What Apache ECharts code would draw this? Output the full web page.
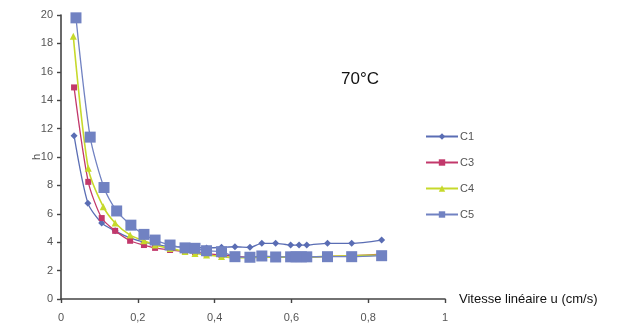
<!DOCTYPE html>
<html>
<head>
<meta charset="utf-8">
<script src="https://cdn.jsdelivr.net/npm/echarts@6/dist/echarts.min.js"></script>
<style>
  html, body { margin: 0; padding: 0; background: #fff; }
  #chart { width: 622px; height: 329px; }
</style>
</head>
<body>
<div id="chart"></div>
<script>
// Linear velocity u (cm/s)
const uC1 = [0.034, 0.070, 0.106, 0.141, 0.180, 0.216, 0.245, 0.284, 0.323, 0.349, 0.379, 0.418, 0.453, 0.492, 0.523, 0.559, 0.598, 0.620, 0.640, 0.694, 0.757, 0.835];
const uC3 = [0.034, 0.071, 0.106, 0.141, 0.180, 0.216, 0.245, 0.284, 0.323, 0.349, 0.379, 0.418, 0.453, 0.492, 0.523, 0.559, 0.598, 0.620, 0.640, 0.694, 0.757, 0.835];
const uC4 = [0.032, 0.071, 0.110, 0.141, 0.180, 0.216, 0.245, 0.284, 0.323, 0.349, 0.379, 0.418, 0.453, 0.492, 0.523, 0.559, 0.598, 0.620, 0.640, 0.694, 0.757, 0.835];
const uC5 = [0.039, 0.076, 0.112, 0.145, 0.182, 0.216, 0.245, 0.284, 0.323, 0.349, 0.379, 0.418, 0.453, 0.492, 0.523, 0.559, 0.598, 0.612, 0.626, 0.640, 0.694, 0.757, 0.835];

// Plate height h
const hC1 = [11.5, 6.75, 5.35, 4.8, 4.3, 4.0, 3.85, 3.7, 3.65, 3.65, 3.6, 3.64, 3.68, 3.64, 3.92, 3.92, 3.8, 3.8, 3.8, 3.92, 3.92, 4.15];
const hC3 = [14.9, 8.25, 5.7, 4.8, 4.1, 3.8, 3.6, 3.45, 3.35, 3.3, 3.2, 3.1, 3.0, 2.95, 2.95, 2.95, 2.95, 2.95, 2.95, 3.0, 3.05, 3.15];
const hC4 = [18.5, 9.2, 6.5, 5.35, 4.5, 4.1, 3.8, 3.55, 3.35, 3.2, 3.1, 3.0, 2.9, 2.9, 2.95, 2.95, 2.95, 2.95, 2.95, 3.0, 3.05, 3.1];
const hC5 = [19.8, 11.4, 7.85, 6.2, 5.2, 4.55, 4.15, 3.8, 3.6, 3.57, 3.4, 3.33, 2.98, 2.94, 3.03, 2.96, 2.97, 2.97, 2.97, 2.97, 2.98, 2.98, 3.05];

const seriesNames = ['C1', 'C3', 'C4', 'C5'];
const xTicks = [0, 0.2, 0.4, 0.6, 0.8, 1];
const yTicks = [0, 2, 4, 6, 8, 10, 12, 14, 16, 18, 20];
const title = '70°C';
const xName = 'Vitesse linéaire u (cm/s)';
const yName = 'h';

const pairs = (xs, ys) => xs.map((x, i) => [x, ys[i]]);

const styles = [
  { color: '#5a6db4', symbol: 'diamond', size: 7, width: 1.3 },
  { color: '#c2386b', symbol: 'rect', size: 6, width: 1.3 },
  { color: '#c6d92b', symbol: 'triangle', size: 7, width: 1.6 },
  { color: '#7182c2', symbol: 'rect', size: 11, width: 1.3 }
];
const dataSets = [pairs(uC1, hC1), pairs(uC3, hC3), pairs(uC4, hC4), pairs(uC5, hC5)];

const chart = echarts.init(document.getElementById('chart'), null, { renderer: 'canvas' });

chart.setOption({
  animation: false,
  backgroundColor: '#ffffff',
  title: {
    text: title,
    left: 336, top: 66,
    textStyle: { fontFamily: 'Liberation Sans', fontSize: 17, fontWeight: 'normal', color: '#111' }
  },
  // vertical y-axis title, placed beside the tick labels
  graphic: [{
    type: 'text',
    x: 37, y: 157,
    rotation: Math.PI / 2,
    style: {
      text: yName,
      fontFamily: 'Liberation Sans', fontSize: 11, fill: '#555',
      align: 'center', verticalAlign: 'middle'
    }
  }],
  legend: {
    orient: 'vertical',
    left: 420, top: 126,
    itemWidth: 32, itemHeight: 8,
    itemGap: 15,
    data: seriesNames,
    textStyle: { fontFamily: 'Liberation Sans Narrow, Liberation Sans', fontSize: 11, color: '#555', padding: [0, 0, 0, -3] }
  },
  grid: { left: 61, right: 177, top: 15, bottom: 30, containLabel: false },
  xAxis: {
    type: 'value',
    min: 0, max: 1, interval: 0.2,
    name: xName,
    nameLocation: 'end',
    nameGap: 14,
    nameTextStyle: { fontFamily: 'Liberation Sans', fontSize: 13, color: '#111', verticalAlign: 'middle' },
    axisLine: { show: true, lineStyle: { color: '#444', width: 1.6 } },
    axisTick: { show: true, length: 4, lineStyle: { color: '#444', width: 1.4 } },
    axisLabel: {
      margin: 13,
      fontFamily: 'Liberation Sans Narrow, Liberation Sans', fontSize: 11, color: '#555',
      formatter: v => String(xTicks.find(t => Math.abs(t - v) < 1e-9)).replace('.', ',')
    },
    splitLine: { show: false }
  },
  yAxis: {
    type: 'value',
    min: 0, max: 20, interval: 2,
    axisLine: { show: true, lineStyle: { color: '#444', width: 1.6 } },
    axisTick: { show: true, length: 4, lineStyle: { color: '#444', width: 1.4 } },
    axisLabel: {
      margin: 8,
      fontFamily: 'Liberation Sans Narrow, Liberation Sans', fontSize: 11, color: '#555',
      formatter: v => String(yTicks.find(t => Math.abs(t - v) < 1e-9))
    },
    splitLine: { show: false }
  },
  series: seriesNames.map((name, i) => ({
    name,
    type: 'line',
    data: dataSets[i],
    smooth: 0.25,
    symbol: styles[i].symbol,
    symbolSize: styles[i].size,
    showAllSymbol: true,
    lineStyle: { color: styles[i].color, width: styles[i].width },
    itemStyle: { color: styles[i].color },
    z: 2 + i
  }))
});
</script>
</body>
</html>
